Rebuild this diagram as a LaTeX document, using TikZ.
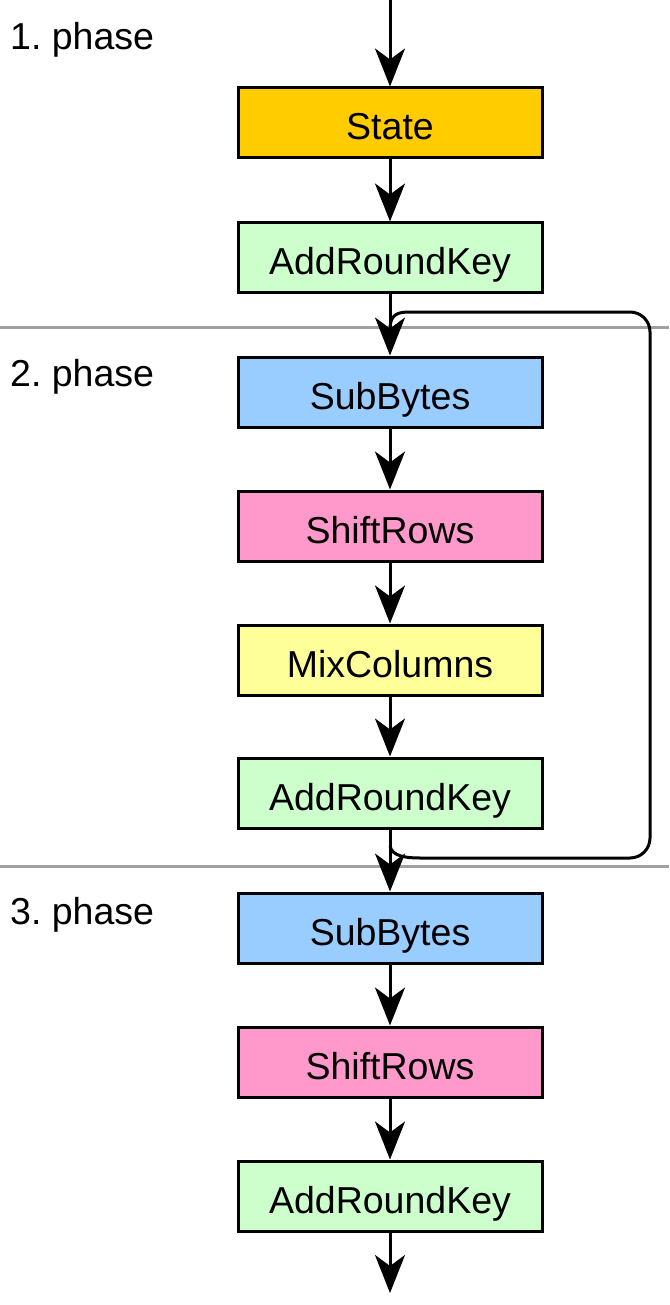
\documentclass[tikz,border=0pt]{standalone}
\usepackage{fontspec}
\setmainfont{Liberation Sans}
\frenchspacing
\usetikzlibrary{arrows.meta,calc}
\definecolor{cState}{HTML}{FFCC00}
\definecolor{cARK}{HTML}{CCFFCC}
\definecolor{cSB}{HTML}{99CCFF}
\definecolor{cSR}{HTML}{FF99CC}
\definecolor{cMC}{HTML}{FFFF99}
\definecolor{cSep}{HTML}{A0A0A0}
\begin{document}
\begin{tikzpicture}[x=1pt,y=-1pt,
  blk/.style={draw=black,line width=3pt,minimum width=304pt,minimum height=70pt,inner sep=0pt,
    text height=40pt,text depth=6pt,
    font=\fontsize{37.5}{45}\selectfont},
  flow/.style={line width=3pt,-{Stealth[length=38pt,width=30pt,inset=11pt]}},
  loopline/.style={line width=3pt,rounded corners=20pt},
  sep/.style={draw=cSep,line width=3pt},
  phase/.style={anchor=base west,inner sep=0pt,font=\fontsize{37.5}{45}\selectfont}]
\useasboundingbox (0,0) rectangle (669,1305);
\draw[sep] (0,327) -- (669,327);
\draw[sep] (0,866) -- (669,866);
\node[phase] (p1) at (10,50) {1. phase};
\node[phase] (p2) at (10,386) {2. phase};
\node[phase] (p3) at (10,924) {3. phase};
\node[blk,fill=cState] (st) at (390,123) {State};
\node[blk,fill=cARK] (ark1) at (390,258) {AddRoundKey};
\node[blk,fill=cSB] (sb1) at (390,392) {SubBytes};
\node[blk,fill=cSR] (sr1) at (390,526) {ShiftRows};
\node[blk,fill=cMC] (mc1) at (390,660) {MixColumns};
\node[blk,fill=cARK] (ark2) at (390,793) {AddRoundKey};
\node[blk,fill=cSB] (sb2) at (390,928) {SubBytes};
\node[blk,fill=cSR] (sr2) at (390,1062) {ShiftRows};
\node[blk,fill=cARK] (ark3) at (390,1196) {AddRoundKey};
\coordinate (in) at (390,0);
\coordinate (out) at (390,1293);
\coordinate (lb) at (390,846);
\coordinate (lt) at (390,327);
\draw[flow] (in) -- (st);
\draw[flow] (st) -- (ark1);
\draw[flow] (ark1) -- (sb1);
\draw[flow] (sb1) -- (sr1);
\draw[flow] (sr1) -- (mc1);
\draw[flow] (mc1) -- (ark2);
\draw[flow] (ark2) -- (sb2);
\draw[flow] (sb2) -- (sr2);
\draw[flow] (sr2) -- (ark3);
\draw[flow] (ark3) -- (out);
\draw[line width=3pt] (lb) .. controls (392,856) and (405,858) .. (420,858);
\draw[loopline] (420,858) -- (650,858) -- (650,312) -- (410,312);
\draw[line width=3pt] (410,312) .. controls (398,312) and (391,314) .. (lt);
\end{tikzpicture}
\end{document}
